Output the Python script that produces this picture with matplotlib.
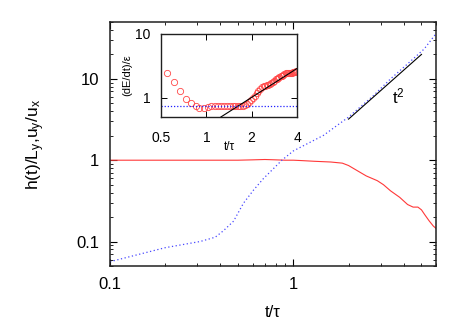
import numpy as np
import matplotlib
matplotlib.use("Agg")
import matplotlib.pyplot as plt
from matplotlib.ticker import FixedLocator, NullLocator, NullFormatter, FuncFormatter

plt.rcParams['font.family'] = ['Liberation Sans', 'DejaVu Sans']
plt.rcParams['mathtext.fontset'] = 'custom'
plt.rcParams['mathtext.rm'] = 'Liberation Sans'
plt.rcParams['mathtext.it'] = 'Liberation Sans:italic'

# main panel: u_y/u_x (blue dotted) and h(t)/L_y (red)
t_blue = [0.1, 0.2, 0.31, 0.375, 0.416, 0.472, 0.534, 0.607, 0.688, 0.78, 0.866,
          1.0, 1.46, 2.0, 2.74, 3.39, 4.2, 5.17, 6.0]
y_blue = [0.0565, 0.084, 0.1, 0.113, 0.136, 0.178, 0.295, 0.43, 0.597, 0.79, 1.0,
          1.3, 2.02, 3.39, 6.25, 10.0, 15.3, 23.3, 36.0]

t_red = [0.1, 0.5, 0.6, 0.7, 0.8, 0.9, 1.0, 1.1, 1.3, 1.6, 1.85, 2.0, 2.24, 2.5,
         2.87, 3.1, 3.39, 3.8, 4.2, 4.5, 4.78, 5.0, 5.2, 5.5, 5.8, 6.0]
y_red = [1.0, 1.0, 1.01, 1.02, 1.01, 1.0, 1.0, 0.99, 0.97, 0.95, 0.92, 0.86, 0.74, 0.64,
         0.56, 0.5, 0.42, 0.35, 0.285, 0.265, 0.265, 0.245, 0.215, 0.18, 0.155, 0.145]

# t^2 guide line
t_fit = [2.0, 5.0]
y_fit = [3.2, 20.0]

# inset: (dE/dt)/eps
t_in = [0.55, 0.61, 0.67, 0.73, 0.79, 0.85, 0.90, 0.96, 1.02, 1.08, 1.14, 1.20, 1.26,
        1.32, 1.38, 1.44, 1.50, 1.56, 1.62, 1.68, 1.74, 1.80, 1.86, 1.92, 1.98, 2.04,
        2.10, 2.16, 2.22, 2.28, 2.34, 2.40, 2.46, 2.52, 2.58, 2.64, 2.70, 2.76, 2.82,
        2.88, 2.94, 3.00, 3.06, 3.12, 3.18, 3.24, 3.30, 3.36, 3.42, 3.48, 3.54, 3.60,
        3.66, 3.72, 3.78, 3.84, 3.90, 3.96]
y_in = [2.39, 1.74, 1.26, 0.97, 0.82, 0.73, 0.69, 0.69, 0.71, 0.73, 0.74, 0.75, 0.75,
        0.75, 0.75, 0.745, 0.74, 0.74, 0.74, 0.745, 0.75, 0.77, 0.80, 0.86, 0.93, 1.00,
        1.08, 1.17, 1.27, 1.36, 1.44, 1.50, 1.54, 1.57, 1.60, 1.64, 1.70, 1.77, 1.85,
        1.92, 1.98, 2.03, 2.08, 2.14, 2.20, 2.26, 2.32, 2.38, 2.42, 2.45, 2.46, 2.46,
        2.46, 2.46, 2.47, 2.50, 2.55, 2.58]
t_in_fit = [1.25, 4.0]
y_in_fit = [0.5, 2.85]
level_in = 0.75

fig = plt.figure(figsize=(4.63, 3.24), dpi=100)
ax = fig.add_axes([0.2376, 0.179, 0.7041, 0.753])

ax.plot(t_red, y_red, color='#ff3838', lw=0.8)
ax.plot(t_blue, y_blue, color='#4848ff', lw=0.9, ls=(0, (1, 2)))
ax.plot(t_fit, y_fit, color='black', lw=0.8)
ax.text(3.75, 6.0, r't$^2$', fontsize=12, ha='center', va='center')

ax.set_xscale('log')
ax.set_yscale('log')
ax.set_xlim(0.1, 6.0)
ax.set_ylim(0.05, 50)

fmt = FuncFormatter(lambda v, p: '%g' % v)
ax.xaxis.set_major_locator(FixedLocator([0.1, 1]))
ax.xaxis.set_major_formatter(fmt)
ax.xaxis.set_minor_locator(FixedLocator([0.2, 0.3, 0.4, 0.5, 0.6, 0.7, 0.8, 0.9, 2, 3, 4, 5, 6]))
ax.xaxis.set_minor_formatter(NullFormatter())
ax.yaxis.set_major_locator(FixedLocator([0.1, 1, 10]))
ax.yaxis.set_major_formatter(fmt)
ax.yaxis.set_minor_locator(FixedLocator([0.05, 0.06, 0.07, 0.08, 0.09, 0.2, 0.3, 0.4, 0.5,
                                         0.6, 0.7, 0.8, 0.9, 2, 3, 4, 5, 6, 7, 8, 9, 20, 30, 40, 50]))
ax.yaxis.set_minor_formatter(NullFormatter())
ax.tick_params(which='both', direction='in', top=True, right=True, labelsize=12)
ax.tick_params(which='major', length=5, width=0.8, pad=8)
ax.tick_params(which='minor', length=2.5, width=0.6)
for s in ax.spines.values():
    s.set_linewidth(1.1)
    s.set_color('#202020')

ax.set_xlabel('t/\u03c4', fontsize=12, labelpad=9)
ax.set_ylabel(r'h(t)/L$_\mathrm{y}$,u$_\mathrm{y}$/u$_\mathrm{x}$', fontsize=12.5, labelpad=21)

# inset
ins = fig.add_axes([0.3477, 0.639, 0.2938, 0.2576])
ins.plot(t_in, y_in, 'o', mfc='none', mec='#ff4848', ms=4.5, mew=0.6)
ins.plot(t_in_fit, y_in_fit, color='black', lw=0.8)
ins.axhline(level_in, color='#2020ff', lw=0.9, ls=(0, (1, 1.5)))
ins.set_xscale('log')
ins.set_yscale('log')
ins.set_xlim(0.5, 4.0)
ins.set_ylim(0.5, 10)
ins.xaxis.set_major_locator(FixedLocator([0.5, 1, 2, 4]))
ins.xaxis.set_major_formatter(fmt)
ins.xaxis.set_minor_locator(NullLocator())
ins.yaxis.set_major_locator(FixedLocator([1, 10]))
ins.yaxis.set_major_formatter(fmt)
ins.yaxis.set_minor_locator(NullLocator())
ins.tick_params(which='both', direction='in', top=True, right=True, labelsize=10,
                length=4, width=0.7)
ins.tick_params(axis='x', pad=10)
ins.tick_params(axis='y', pad=7.5)
for s in ins.spines.values():
    s.set_linewidth(1.0)
    s.set_color('#202020')
ins.set_xlabel('t/\u03c4', fontsize=8.5, labelpad=-3)
ins.set_ylabel('(dE/dt)/\u03b5', fontsize=8, labelpad=2)

fig.savefig('out.png', dpi=100)
